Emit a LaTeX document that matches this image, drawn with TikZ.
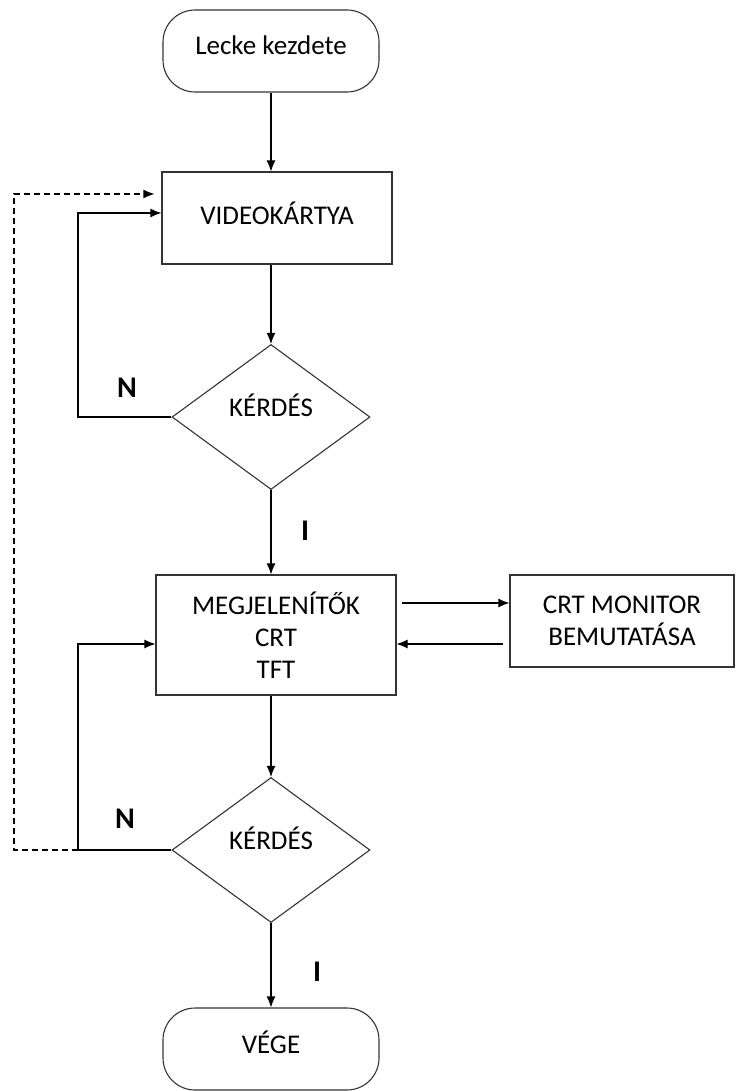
\documentclass[tikz,border=0pt]{standalone}
\usepackage{fontspec}
\setmainfont{Carlito}
\usetikzlibrary{shapes.geometric,arrows.meta}

\tikzset{
  term/.style={draw=black!80, line width=1.1pt, rectangle, rounded corners=32pt,
    minimum width=216pt, minimum height=82pt, inner sep=0pt},
  box/.style={draw=black!80, line width=1.1pt, rectangle, align=center, inner sep=0pt},
  dec/.style={draw=black!80, line width=1.1pt, diamond, inner sep=0pt,
    minimum width=198pt, minimum height=145pt, text depth=24pt},
  arr/.style={->, >={Latex[length=11pt,width=9pt]}, line width=1.1pt},
  lbl/.style={font=\fontsize{30}{36}\selectfont\bfseries}
}

\begin{document}
\begin{tikzpicture}[x=1pt, y=-1pt, font=\fontsize{27}{32}\selectfont]
  \useasboundingbox (0,0) rectangle (736,1091);

  % nodes
  \node[term, text depth=12pt] (start) at (271,51) {Lecke kezdete};
  \node[box, minimum width=230pt, minimum height=92pt, text depth=10pt] (video) at (277,218) {VIDEOKÁRTYA};
  \node[dec] (q1) at (271,417) {KÉRDÉS};
  \node[box, minimum width=240pt, minimum height=120pt] (disp) at (276,635)
    {MEGJELENÍTŐK\\CRT\\TFT};
  \node[box, minimum width=224pt, minimum height=92pt] (crt) at (622,621)
    {CRT MONITOR\\BEMUTATÁSA};
  \node[dec] (q2) at (271,850) {KÉRDÉS};
  \node[term, text depth=14pt] (end) at (271,1049) {VÉGE};

  % x of the back lines
  \coordinate (nl) at (78,0);
  \coordinate (dl) at (14,0);

  % main flow
  \draw[arr] (start.south) -- (start.south |- video.north);
  \draw[arr] (q1.north |- video.south) -- (q1.north);
  \draw[arr] (q1.south) -- (q1.south |- disp.north);
  \draw[arr] (q2.north |- disp.south) -- (q2.north);
  \draw[arr] (q2.south) -- (end.north);

  % side box
  \draw[arr, shorten <=5pt] ([yshift=32pt]disp.east) -- ([yshift=32pt]disp.east -| crt.west);
  \draw[arr, shorten <=6pt] ([yshift=-9pt]disp.east -| crt.west) -- ([yshift=-9pt]disp.east);

  % loops back
  \draw[arr] (q1.west) -- (q1.west -| nl) |- ([yshift=5pt]video.west);
  \draw[arr] (q2.west) -- (q2.west -| nl) |- ([yshift=-9pt]disp.west);
  \draw[arr, dashed, dash pattern=on 6pt off 4pt, shorten >=7pt]
    (q2.west -| nl) -- (q2.west -| dl) |- ([yshift=24pt]video.west);

  % labels
  \node[lbl] (n1) at (127,388) {N};
  \node[lbl] (i1) at (305,531) {I};
  \node[lbl] (n2) at (125,819) {N};
  \node[lbl] (i2) at (317,972) {I};
\end{tikzpicture}
\end{document}
